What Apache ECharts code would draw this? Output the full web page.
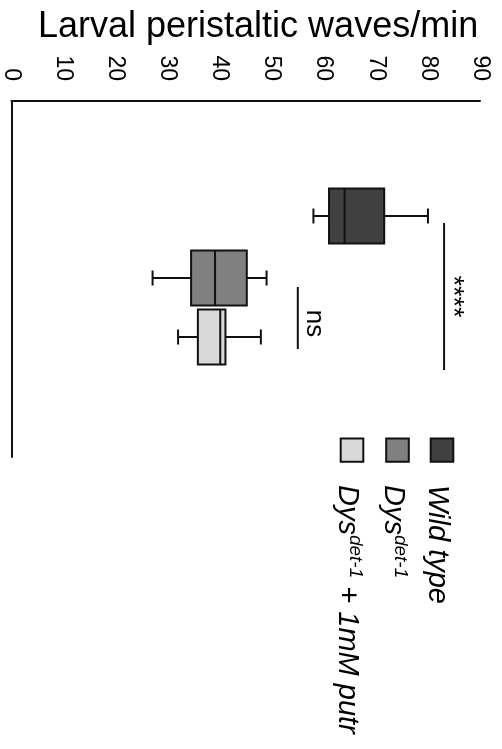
<!DOCTYPE html>
<html>
<head>
<meta charset="utf-8">
<title>Larval peristaltic waves/min</title>
<script src="https://cdn.jsdelivr.net/npm/echarts@6/dist/echarts.min.js"></script>
<style>
  html, body { margin: 0; padding: 0; background: #fff; }
  #chart { width: 502px; height: 749px; }
</style>
</head>
<body>
<div id="chart"></div>
<script>
// Peristaltic wave counts per genotype, five-number summaries (waves/min)
const genotypes   = ['Wild type', 'Dys det-1', 'Dys det-1 + 1mM putr'];
const whiskerLow  = [58.0, 27.1, 32.0];
const quartile1   = [61.0, 34.5, 35.8];
const medians     = [64.0, 39.1, 40.1];
const quartile3   = [71.6, 45.2, 41.1];
const whiskerHigh = [80.0, 49.0, 47.9];

// Value axis ticks
const axisMin = 0;
const axisMax = 90;
const tickStep = 10;

// Significance annotations: comparison pairs (genotype indices), label, bracket level
const sigPairs  = [[0, 2], [1, 2]];
const sigLabels = ['****', 'ns'];
const sigLevels = [83.1, 55.0];

// ---- styling / layout ----
const FONT = '"Liberation Sans", Arial, Helvetica, sans-serif';
const fills = ['#404040', '#808080', '#d9d9d9'];
const groupOffsets = [-63, -1, 58];     // box centre offsets inside the single category band
const boxHeight = 55;
const capHeight = 15;
const sigSpans = [[-56, 91], [8, 70]];  // bracket extents relative to the band centre
const sigTextPos = [17.5, 44.5];        // label centres relative to the band centre
const sigTextGap = [8.7, 16];
const sigFontSize = [27, 26];
const stroke = '#111';

const chart = echarts.init(document.getElementById('chart'), null, { renderer: 'canvas' });

function boxRenderer(g) {
  return function (params, api) {
    const yc = api.coord([api.value(0), 0])[1] + groupOffsets[g];
    const xs = [1, 2, 3, 4, 5].map(function (d) { return api.coord([api.value(d), 0])[0]; });
    const h = boxHeight / 2, c = capHeight / 2;
    const ls = { stroke: stroke, lineWidth: 2 };
    return {
      type: 'group',
      children: [
        { type: 'line', shape: { x1: xs[0], y1: yc, x2: xs[1], y2: yc }, style: ls },
        { type: 'line', shape: { x1: xs[3], y1: yc, x2: xs[4], y2: yc }, style: ls },
        { type: 'line', shape: { x1: xs[0], y1: yc - c, x2: xs[0], y2: yc + c }, style: ls },
        { type: 'line', shape: { x1: xs[4], y1: yc - c, x2: xs[4], y2: yc + c }, style: ls },
        { type: 'rect', shape: { x: xs[1], y: yc - h, width: xs[3] - xs[1], height: boxHeight },
          style: { fill: fills[g], stroke: stroke, lineWidth: 2 } },
        { type: 'line', shape: { x1: xs[2], y1: yc - h, x2: xs[2], y2: yc + h }, style: ls }
      ]
    };
  };
}

const boxSeries = genotypes.map(function (name, g) {
  return {
    type: 'custom',
    name: name,
    coordinateSystem: 'cartesian2d',
    encode: { x: [1, 2, 3, 4, 5], y: 0 },
    data: [[0, whiskerLow[g], quartile1[g], medians[g], quartile3[g], whiskerHigh[g]]],
    renderItem: boxRenderer(g),
    silent: true
  };
});

const sigSeries = {
  type: 'custom',
  name: 'significance',
  coordinateSystem: 'cartesian2d',
  encode: { x: 1, y: 0 },
  data: sigLevels.map(function (v, i) { return [0, v, i]; }),
  renderItem: function (params, api) {
    const i = api.value(2);
    const p = api.coord([api.value(1), api.value(0)]);
    const yc = p[1];
    return {
      type: 'group',
      children: [
        { type: 'line', shape: { x1: p[0], y1: yc + sigSpans[i][0], x2: p[0], y2: yc + sigSpans[i][1] },
          style: { stroke: stroke, lineWidth: 2 } },
        { type: 'text', x: p[0] + sigTextGap[i], y: yc + sigTextPos[i], rotation: -Math.PI / 2,
          style: { text: sigLabels[i], fontFamily: FONT, fontSize: sigFontSize[i], fill: '#000',
                   align: 'center', verticalAlign: 'middle' } }
      ]
    };
  },
  silent: true
};

// Legend keys drawn as rotated text next to filled squares
const legendRich = {
  i:   { fontFamily: FONT, fontSize: 29, fontStyle: 'italic', fill: '#000', lineHeight: 34 },
  sup: { fontFamily: FONT, fontSize: 19, fontStyle: 'italic', fill: '#000', lineHeight: 21, verticalAlign: 'top' }
};
const legendTexts = [
  '{i|Wild type}',
  '{i|Dys}{sup|det-1}',
  '{i|Dys}{sup|det-1}{i| + 1mM putr}'
];
const legendCentres = [442, 397.5, 352];
const legendGraphics = [];
genotypes.forEach(function (name, g) {
  legendGraphics.push({
    type: 'rect',
    shape: { x: legendCentres[g] - 11.3, y: 438.5, width: 22.6, height: 23.2 },
    style: { fill: fills[g], stroke: stroke, lineWidth: 2 }
  });
  legendGraphics.push({
    type: 'text',
    x: legendCentres[g] - 4.5,
    y: 485,
    rotation: -Math.PI / 2,
    style: { text: legendTexts[g], rich: legendRich, fontFamily: FONT, fontSize: 29, fontStyle: 'italic',
             fill: '#000', align: 'left', verticalAlign: 'middle' }
  });
});

chart.setOption({
  animation: false,
  backgroundColor: '#fff',
  title: {
    text: 'Larval peristaltic waves/min',
    left: 33,
    top: 4,
    textStyle: { fontFamily: FONT, fontSize: 36, fontWeight: 'normal', color: '#000' }
  },
  grid: { left: 8, right: 22, top: 101, bottom: 292, containLabel: false },
  xAxis: {
    type: 'value',
    position: 'top',
    min: axisMin,
    max: axisMax,
    interval: tickStep,
    axisLine: { show: true, lineStyle: { color: stroke, width: 2 } },
    axisTick: { show: false },
    splitLine: { show: false },
    axisLabel: { rotate: 90, margin: 20, fontSize: 23, fontFamily: FONT, color: '#000' }
  },
  yAxis: {
    type: 'category',
    data: ['Genotype'],
    inverse: true,
    axisLine: { show: true, lineStyle: { color: stroke, width: 2 } },
    axisTick: { show: false },
    axisLabel: { show: false },
    splitLine: { show: false }
  },
  series: boxSeries.concat([sigSeries]),
  graphic: legendGraphics
});
</script>
</body>
</html>
